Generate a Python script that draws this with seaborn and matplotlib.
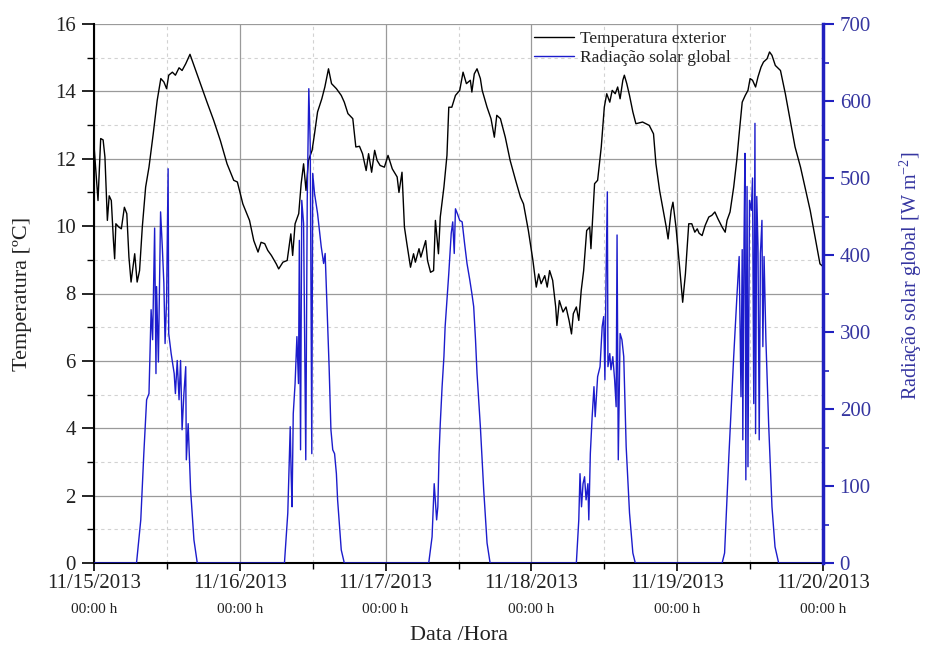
import numpy as np
import pandas as pd
import matplotlib
matplotlib.use("Agg")
import matplotlib.pyplot as plt
import matplotlib.transforms as mtransforms
from matplotlib.ticker import MultipleLocator
import seaborn as sns

# ---------------- data ----------------
# hours since 11/15/2013 00:00
temp_hours = [
    0, 0.66, 1.1, 1.5, 1.8, 2.2, 2.5, 2.85, 3.2, 3.4, 3.6, 4.1, 4.5, 5.0, 5.4, 5.75, 6.1, 6.7, 7.1, 7.5,
    7.95, 8.5, 9.05, 9.75, 10.4, 11.0, 11.5, 11.95, 12.3, 12.9, 13.4, 14.0, 14.5, 15.1, 15.8, 16.45,
    17.5, 18.6, 19.7, 20.8, 21.9, 23.0, 23.6,
    24.5, 25.6, 26.3, 27.0, 27.5, 28.1, 28.6, 29.2, 30.0, 30.4, 31.1, 31.8, 32.4, 32.7, 33.1, 33.7,
    34.1, 34.5, 34.9, 35.3, 35.9, 36.3, 36.8, 37.5, 38.0, 38.6, 39.1, 39.9, 40.7, 41.2, 41.8, 42.6,
    43.1, 43.7, 44.2, 44.8, 45.2, 45.7, 46.2, 46.6, 47.1, 47.8,
    48.4, 49.1, 49.9, 50.2, 50.7, 51.1, 51.5, 52.1, 52.6, 52.9, 53.5, 53.8, 54.6, 54.9, 55.4, 55.9,
    56.2, 56.7, 57.0, 57.6, 58.1, 58.4, 58.9, 59.5, 60.2, 60.75, 61.3, 61.95, 62.2, 62.6, 63.05, 63.6,
    63.9, 64.7, 65.35, 65.9, 66.3, 66.9, 67.7, 68.5, 69.4, 70.2, 70.7, 71.5,
    72.25, 72.8, 73.2, 73.6, 74.2, 74.6, 75.0, 75.5, 76.0, 76.2, 76.6, 77.2, 77.7, 78.2, 78.6, 78.9,
    79.4, 79.8, 80.2, 80.6, 81.1, 81.6, 81.8, 82.4, 82.9, 83.5, 84.0, 84.4, 84.9, 85.3, 85.8, 86.2,
    86.6, 87.05, 87.3, 87.7, 88.15, 88.7, 89.2, 90.3, 91.4, 92.1, 92.5, 93.1, 93.6, 94.2, 94.5, 95.0,
    95.3, 95.8,
    96.4, 96.9, 97.35, 97.9, 98.4, 98.9, 99.3, 99.6, 100.1, 100.6, 101.2, 101.7, 102.2, 102.7, 103.4,
    103.9, 104.2, 104.7, 105.3, 105.8, 106.2, 106.7, 107.2, 107.65, 108.0, 108.4, 108.9, 109.3, 109.8,
    110.2, 110.8, 111.2, 111.6, 112.15, 113.0, 113.8, 114.6, 115.4, 116.3, 117.1, 117.9, 118.7, 119.5,
    120.0,
]
temp_values = [
    12.4, 10.76, 12.6, 12.56, 12.05, 10.17, 10.9, 10.76, 9.57, 9.03, 10.07, 9.97, 9.92, 10.56, 10.37,
    9.08, 8.34, 9.18, 8.34, 8.68, 9.97, 11.16, 11.75, 12.74, 13.73, 14.38, 14.28, 14.08, 14.48, 14.57,
    14.48, 14.7, 14.62, 14.82, 15.1, 14.77, 14.23, 13.68, 13.14, 12.54, 11.85, 11.36, 11.31,
    10.66, 10.17, 9.57, 9.23, 9.52, 9.48, 9.28, 9.13, 8.88, 8.73, 8.93, 8.98, 9.77, 9.13, 10.07, 10.37,
    11.26, 11.85, 11.06, 11.95, 12.25, 12.74, 13.39, 13.78, 14.13, 14.67, 14.23, 14.08, 13.88, 13.68,
    13.34, 13.19, 12.35, 12.37, 12.15, 11.65, 12.15, 11.6, 12.25, 11.95, 11.8, 11.75,
    12.1, 11.7, 11.46, 11.0, 11.6, 9.97, 9.48, 8.78, 9.18, 8.93, 9.33, 9.08, 9.57, 8.98, 8.63, 8.68,
    10.17, 9.18, 10.27, 11.16, 12.1, 13.53, 13.53, 13.88, 14.03, 14.57, 14.23, 14.33, 13.98, 14.52,
    14.67, 14.38, 14.03, 13.53, 13.19, 12.64, 13.29, 13.19, 12.64, 11.95, 11.36, 10.86, 10.66, 9.87,
    8.98, 8.19, 8.58, 8.29, 8.53, 8.19, 8.68, 8.39, 7.6, 7.05, 7.79, 7.45, 7.6, 7.2, 6.8, 7.4,
    7.6, 7.2, 8.09, 8.68, 9.87, 9.97, 9.33, 11.26, 11.36, 12.35, 13.53, 13.93, 13.68, 14.03, 13.93,
    14.13, 13.78, 14.33, 14.48, 14.23, 13.88, 13.39, 13.04, 13.09, 12.99, 12.74, 11.85, 11.06, 10.56,
    9.97, 9.62, 10.46, 10.71, 9.97,
    8.78, 7.74, 8.58, 10.07, 10.07, 9.82, 9.92, 9.79, 9.72, 10.02, 10.27, 10.32, 10.42, 10.22, 9.97,
    9.82, 10.17, 10.42, 11.16, 11.95, 12.74, 13.68, 13.88, 14.03, 14.38, 14.33, 14.13, 14.43, 14.72,
    14.87, 14.97, 15.17, 15.07, 14.77, 14.62, 13.93, 13.14, 12.35, 11.75, 11.11, 10.46, 9.67, 8.88,
    8.8,
]

rad_hours = [
    0,
    7.0, 7.7, 8.2, 8.66, 9.05, 9.4, 9.65, 9.98, 10.2, 10.3, 10.6, 10.96, 11.24, 11.5, 11.7, 11.95,
    12.2, 12.3, 12.7, 13.2, 13.4, 13.7, 14.0, 14.25, 14.5, 14.8, 15.1, 15.2, 15.5, 15.9, 16.45, 17.0,
    31.35, 31.9, 32.3, 32.45, 32.6, 32.8, 33.1, 33.4, 33.66, 33.8, 34.0, 34.2, 34.5, 34.86, 35.1,
    35.36, 35.6, 35.85, 36.0, 36.3, 36.8, 37.4, 37.8, 38.05, 38.4, 38.7, 39.0, 39.3, 39.6, 39.9, 40.1,
    40.7, 41.2,
    55.1, 55.65, 56.0, 56.4, 56.6, 56.8, 57.0, 57.3, 57.6, 57.8, 58.4, 58.8, 59.05, 59.3, 59.5, 59.8,
    60.2, 60.6, 61.0, 61.4, 61.85, 62.2, 62.5, 62.8, 63.05, 63.6, 64.15, 64.7, 65.2,
    79.4, 79.8, 80.0, 80.25, 80.5, 80.75, 81.0, 81.3, 81.45, 81.7, 82.0, 82.3, 82.5, 82.9, 83.3,
    83.65, 83.9, 84.1, 84.3, 84.5, 84.6, 84.9, 85.1, 85.4, 85.7, 85.95, 86.1, 86.3, 86.6, 86.9, 87.2,
    87.6, 88.15, 88.7, 89.1,
    103.4, 103.8, 104.5, 105.3, 105.8, 106.2, 106.5, 106.7, 106.8, 107.0, 107.15, 107.3, 107.5,
    107.65, 107.9, 108.2, 108.4, 108.6, 108.8, 108.9, 109.1, 109.3, 109.5, 109.7, 109.95, 110.1,
    110.3, 110.6, 111.05, 111.6, 112.1, 112.7,
    120.0,
]
rad_values = [
    0,
    0, 56, 142, 212, 220, 329, 290, 435, 246, 359, 261, 456, 411, 363, 285, 342,
    512, 298, 272, 246, 220, 263, 212, 263, 173, 220, 255, 134, 181, 95, 30, 0,
    0, 65, 177, 116, 73, 194, 233, 294, 233, 419, 147, 471, 441, 134, 471,
    616, 541, 142, 506, 480, 454, 411, 389, 402, 324, 255, 173, 147, 142, 116, 82,
    17, 0,
    0, 34, 103, 56, 73, 142, 181, 229, 268, 307, 376, 428, 443, 402, 460, 454,
    445, 443, 415, 389, 368, 350, 333, 290, 246, 177, 95, 26, 0,
    0, 56, 116, 73, 103, 112, 82, 103, 56, 142, 190, 229, 190, 242, 255,
    307, 320, 238, 376, 482, 255, 272, 251, 268, 238, 203, 426, 134, 298, 290, 268,
    151, 65, 13, 0,
    0, 13, 138, 268, 342, 398, 216, 407, 160, 419, 532, 108, 489,
    125, 471, 458, 500, 207, 571, 168, 476, 411, 160, 402, 445, 281,
    398, 290, 181, 73, 21, 0,
    0,
]

date_labels = ["11/15/2013", "11/16/2013", "11/17/2013", "11/18/2013", "11/19/2013", "11/20/2013"]
time_label = "00:00 h"

temp_df = pd.DataFrame({"dia": np.array(temp_hours) / 24.0, "temp": temp_values})
rad_df = pd.DataFrame({"dia": np.array(rad_hours) / 24.0, "rad": rad_values})

# ---------------- style ----------------
sns.set_theme(style="white")
plt.rcParams["font.family"] = ["Liberation Serif", "DejaVu Serif"]
plt.rcParams["mathtext.fontset"] = "custom"
plt.rcParams["mathtext.rm"] = "Liberation Serif"
plt.rcParams["mathtext.it"] = "Liberation Serif:italic"

BLUE_LINE = "#1c1ccc"
BLUE_AX = "#2020c0"
BLUE_TXT = "#3535a0"
TXT = "#222222"

fig = plt.figure(figsize=(9.25, 6.53), dpi=100)
ax = fig.add_axes([94 / 925, 90 / 653, 729 / 925, 539 / 653])

sns.lineplot(data=temp_df, x="dia", y="temp", ax=ax, color="black", lw=1.0,
             sort=False, estimator=None, label="Temperatura exterior", legend=False)
ax2 = ax.twinx()
sns.lineplot(data=rad_df, x="dia", y="rad", ax=ax2, color=BLUE_LINE, lw=1.0,
             sort=False, estimator=None, label="Radiação solar global", legend=False)

ax.set_xlim(0, 5)
ax.set_ylim(0, 16)
ax2.set_ylim(0, 700)

# grid
ax.xaxis.set_major_locator(MultipleLocator(1))
ax.xaxis.set_minor_locator(MultipleLocator(0.5))
ax.yaxis.set_major_locator(MultipleLocator(2))
ax.yaxis.set_minor_locator(MultipleLocator(1))
ax.grid(which="major", color="#9a9a9a", lw=0.9, ls="-")
ax.grid(which="minor", color="#d2d2d2", lw=0.8, ls=(0, (3, 3)))
ax.set_axisbelow(True)

ax2.yaxis.set_major_locator(MultipleLocator(100))
ax2.yaxis.set_minor_locator(MultipleLocator(50))
ax2.grid(False)

# spines
for s in ["top", "right"]:
    ax.spines[s].set_visible(False)
for s in ["left", "bottom"]:
    ax.spines[s].set_color("black")
    ax.spines[s].set_linewidth(1.5)
for s in ["top", "left", "bottom"]:
    ax2.spines[s].set_visible(False)
ax2.spines["right"].set_color(BLUE_AX)
ax2.spines["right"].set_linewidth(2.5)

# ticks
ax.tick_params(axis="y", which="major", direction="out", length=9, width=1.2,
               color="black", labelsize=15, labelcolor=TXT, pad=4, left=True)
ax.tick_params(axis="y", which="minor", direction="out", length=5, width=1.0,
               color="black", left=True)
ax.tick_params(axis="x", which="major", direction="out", length=6, width=1.2,
               color="black", labelsize=15, labelcolor=TXT, pad=2, bottom=True)
ax.tick_params(axis="x", which="minor", direction="out", length=4, width=1.0,
               color="black", bottom=True)
ax2.tick_params(axis="y", which="major", direction="out", length=8, width=1.5,
                color=BLUE_AX, labelsize=15, labelcolor=BLUE_TXT, pad=4, right=True)
ax2.tick_params(axis="y", which="minor", direction="out", length=4.5, width=1.2,
                color=BLUE_AX, right=True)

ax.set_xticks(range(len(date_labels)))
ax.set_xticklabels(date_labels)
trans = mtransforms.blended_transform_factory(ax.transData, ax.transAxes)
for i in range(len(date_labels)):
    ax.text(i, -0.086, time_label, transform=trans, ha="center", va="center",
            fontsize=11, color=TXT)

# labels
ax.set_xlabel("Data /Hora", fontsize=16, color=TXT)
ax.xaxis.set_label_coords(0.5, -0.117)
ax.set_ylabel("Temperatura [ºC]", fontsize=16, color=TXT)
ax.yaxis.set_label_coords(-0.085, 0.5)
ax2.set_ylabel("Radiação solar global [W m$^{-2}$]", fontsize=14.5, color=BLUE_TXT)
ax2.yaxis.set_label_coords(1.102, 0.533)

# legend
h1, l1 = ax.get_legend_handles_labels()
h2, l2 = ax2.get_legend_handles_labels()
leg = ax2.legend(h1 + h2, l1 + l2, loc="upper left", bbox_to_anchor=(0.603, 0.987),
                 frameon=False, fontsize=12.5, handlelength=2.35, handletextpad=0.3,
                 labelspacing=0.15, borderpad=0, borderaxespad=0)
for t in leg.get_texts():
    t.set_color(TXT)

fig.savefig("out.png", dpi=100)
